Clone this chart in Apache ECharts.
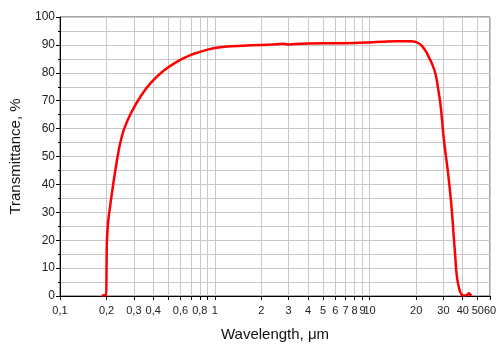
<!DOCTYPE html>
<html>
<head>
<meta charset="utf-8">
<script src="https://cdn.jsdelivr.net/npm/echarts@6/dist/echarts.min.js"></script>
<style>
  html, body { margin: 0; padding: 0; background: #fff; }
  #chart { width: 500px; height: 350px; }
</style>
</head>
<body>
<div id="chart"></div>
<script>
// wavelength in µm, transmittance in %
var wavelength = [0.186, 0.19, 0.195, 0.199, 0.2, 0.2, 0.201, 0.203, 0.205, 0.212, 0.219, 0.23, 0.241, 0.25, 0.26, 0.287, 0.333, 0.386, 0.471, 0.597, 0.7, 0.8, 0.9, 1.0, 1.2, 1.5, 2, 2.5, 2.8, 3.0, 3.3, 4, 6, 8, 10, 12, 15, 18.4, 19.8, 21.3, 22.8, 24.2, 25.5, 26.7, 27.7, 28.7, 29.4, 30.1, 31, 32, 32.9, 33.7, 34.4, 35, 35.7, 36.3, 37, 37.7, 38.6, 39.6, 41, 42.5, 43.7, 44.7, 45.7];
var transmittance = [0.3, 0.2, 0.3, 0.4, 0.5, 12, 20, 24, 27.1, 33.2, 38.8, 46.5, 53, 56.8, 60, 65.5, 71.7, 76.4, 80.9, 84.6, 86.4, 87.5, 88.3, 88.9, 89.4, 89.7, 90, 90.2, 90.4, 90.1, 90.3, 90.5, 90.6, 90.7, 90.9, 91.1, 91.3, 91.3, 91.1, 90.2, 88.2, 85.5, 82.8, 79.5, 74.5, 68.8, 63, 56.9, 51, 45, 39, 33.1, 27, 21.2, 15, 9.3, 5.5, 3.3, 1.3, 0.4, 0.2, 0.3, 1, 0.5, 0.3];

var xTicks = [0.1, 0.2, 0.3, 0.4, 0.5, 0.6, 0.7, 0.8, 0.9, 1, 2, 3, 4, 5, 6, 7, 8, 9, 10, 20, 30, 40, 50, 60];
var xLabels = [0.1, 0.2, 0.3, 0.4, 0.6, 0.8, 1, 2, 3, 4, 5, 6, 7, 8, 9, 10, 20, 30, 40, 50, 60];

var chart = echarts.init(document.getElementById('chart'));
var points = wavelength.map(function (w, i) { return [w, transmittance[i]]; });

var option = {
  animation: false,
  textStyle: { fontFamily: 'Liberation Sans, Arial, sans-serif' },
  grid: {
    left: 59, right: 10, top: 17, bottom: 54,
    show: true, borderColor: '#555', borderWidth: 1
  },
  xAxis: {
    type: 'log',
    logBase: 10,
    min: 0.1,
    max: 60,
    name: 'Wavelength, \u03bcm',
    nameLocation: 'middle',
    nameGap: 31,
    nameTextStyle: { fontSize: 15, color: '#111' },
    axisLine: { lineStyle: { color: '#000', width: 1 } },
    axisTick: { show: true, length: 4, customValues: xTicks, lineStyle: { color: '#000' } },
    axisLabel: {
      customValues: xLabels,
      interval: 0,
      hideOverlap: false,
      showMinLabel: true,
      showMaxLabel: true,
      fontSize: 11,
      color: '#222',
      margin: 9,
      formatter: function (v) { return String(v).replace('.', ','); }
    },
    splitLine: { show: true, lineStyle: { color: '#c8c8c8', width: 1 } },
    minorTick: { show: false },
    minorSplitLine: { show: false }
  },
  yAxis: {
    type: 'value',
    min: 0,
    max: 100,
    interval: 10,
    name: 'Transmittance, %',
    nameLocation: 'middle',
    nameGap: 37,
    nameTextStyle: { fontSize: 15, color: '#111' },
    axisLine: { show: true, lineStyle: { color: '#000', width: 1 } },
    axisTick: { show: true, length: 4, lineStyle: { color: '#000' } },
    minorTick: { show: true, splitNumber: 2, length: 2, lineStyle: { color: '#000' } },
    axisLabel: { fontSize: 12, color: '#222', margin: 5 },
    splitLine: { show: true, lineStyle: { color: '#c8c8c8', width: 1 } },
    minorSplitLine: { show: true, lineStyle: { color: '#c8c8c8', width: 1 } }
  },
  series: [
    {
      type: 'line',
      data: points,
      showSymbol: false,
      smooth: 0.4,
      lineStyle: { color: '#ff0000', width: 2.5 },
      itemStyle: { color: '#ff0000' }
    }
  ]
};

chart.setOption(option);
</script>
</body>
</html>
